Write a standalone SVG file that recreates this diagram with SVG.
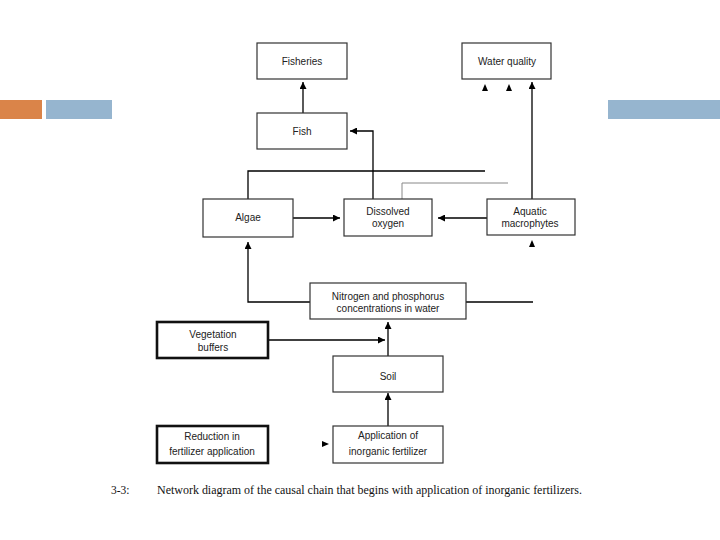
<svg xmlns="http://www.w3.org/2000/svg" width="720" height="540" viewBox="0 0 720 540">
<style>
.box{fill:#fff;stroke:#333;stroke-width:1.2}
.thick{fill:#fff;stroke:#111;stroke-width:2.6}
.t{font-family:"Liberation Sans",Arial,sans-serif;font-size:10px;fill:#222;text-anchor:middle}
.c{fill:none;stroke:#000;stroke-width:1.3}
.g{fill:none;stroke:#888;stroke-width:1}
.cap{font-family:"Liberation Serif","Times New Roman",serif;font-size:11.5px;fill:#111}
</style>
<defs>
<marker id="ah" viewBox="0 0 10 10" refX="10" refY="5" markerWidth="7" markerHeight="7" markerUnits="userSpaceOnUse" orient="auto">
<path d="M0,0L10,5L0,10z" fill="#000"/>
</marker>
</defs>
<rect x="0" y="100" width="42" height="19" fill="#DA8449"/>
<rect x="46" y="100" width="66" height="19" fill="#96B5CF"/>
<rect x="608" y="100" width="112" height="19" fill="#96B5CF"/>
<g id="connectors">
<path class="c" d="M303,113V82" marker-end="url(#ah)"/>
<path class="c" d="M373,199V131H350" marker-end="url(#ah)"/>
<path class="c" d="M248,199V171H485"/>
<path class="g" d="M402,199V183H508"/>
<path class="c" d="M532,199V82" marker-end="url(#ah)"/>
<path fill="#000" d="M482,91L485,84L488,91z"/>
<path fill="#000" d="M506,91L509,84L512,91z"/>
<path class="c" d="M293,218H340" marker-end="url(#ah)"/>
<path class="c" d="M487,218H438" marker-end="url(#ah)"/>
<path fill="#000" d="M529,247L532,240L535,247z"/>
<path class="c" d="M310,302H248V242" marker-end="url(#ah)"/>
<path class="c" d="M466,302H533"/>
<path class="c" d="M268,340H385" marker-end="url(#ah)"/>
<path class="c" d="M388,356V322" marker-end="url(#ah)"/>
<path class="c" d="M388,426V393" marker-end="url(#ah)"/>
<path fill="#000" d="M322,441L329,444L322,447z"/>
</g>
<g id="fisheries"><rect class="box" x="257" y="43" width="90" height="36"/><text class="t" x="302" y="65">Fisheries</text></g>
<g id="water-quality"><rect class="box" x="462" y="43" width="89" height="36"/><text class="t" x="507" y="65">Water quality</text></g>
<g id="fish"><rect class="box" x="257" y="113" width="90" height="36"/><text class="t" x="302" y="135">Fish</text></g>
<g id="algae"><rect class="box" x="203" y="199" width="90" height="38"/><text class="t" x="248" y="221">Algae</text></g>
<g id="dissolved-oxygen"><rect class="box" x="344" y="199" width="88" height="37"/><text class="t" x="388" y="215">Dissolved</text><text class="t" x="388" y="227">oxygen</text></g>
<g id="aquatic-macrophytes"><rect class="box" x="487" y="199" width="88" height="36"/><text class="t" x="530" y="215">Aquatic</text><text class="t" x="530" y="227">macrophytes</text></g>
<g id="nitrogen"><rect class="box" x="310" y="283" width="156" height="36"/><text class="t" x="388" y="300">Nitrogen and phosphorus</text><text class="t" x="388" y="312">concentrations in water</text></g>
<g id="vegetation-buffers"><rect class="thick" x="157" y="322" width="111" height="36"/><text class="t" x="213" y="338">Vegetation</text><text class="t" x="213" y="351">buffers</text></g>
<g id="soil"><rect class="box" x="333" y="356" width="110" height="36"/><text class="t" x="388" y="380">Soil</text></g>
<g id="reduction"><rect class="thick" x="157" y="426" width="111" height="37"/><text class="t" x="212" y="440">Reduction in</text><text class="t" x="212" y="455">fertilizer application</text></g>
<g id="application"><rect class="box" x="333" y="426" width="110" height="37"/><text class="t" x="388" y="439">Application of</text><text class="t" x="388" y="455">inorganic fertilizer</text></g>
<text class="cap" x="111" y="494">3-3:</text>
<text class="cap" x="157" y="494" textLength="425" lengthAdjust="spacingAndGlyphs">Network diagram of the causal chain that begins with application of inorganic fertilizers.</text>
</svg>
